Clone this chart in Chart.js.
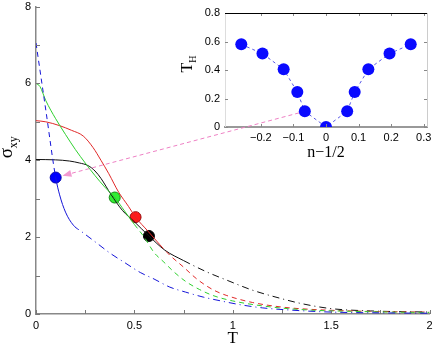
<!DOCTYPE html>
<html>
<head>
<meta charset="utf-8">
<script src="https://cdn.jsdelivr.net/npm/chart.js@4/dist/chart.umd.min.js"></script>
<style>
  body { margin: 0; background: #fff; }
  #wrap { position: relative; width: 436px; height: 346px; }
  #main, #inset, #arrow { position: absolute; top: 0; }
  #main, #arrow { left: 0; }
  #inset { left: 175px; }
  #arrow { pointer-events: none; }
</style>
</head>
<body>
<div id="wrap">
  <canvas id="main" width="436" height="346"></canvas>
  <canvas id="inset" width="261" height="162"></canvas>
  <canvas id="arrow" width="436" height="346"></canvas>
</div>
<script>
// ---- main plot: sigma_xy against T ----
var blueT  = [0, 0.05, 0.1, 0.12, 0.15, 0.19, 0.23, 0.3, 0.38, 0.45, 0.53, 0.6, 0.68, 0.76, 0.85, 0.94, 1.04, 1.15, 1.3, 1.5, 1.75, 2.0];
var blueS  = [7.05, 5.3, 3.55, 3.1, 2.65, 2.31, 2.15, 1.88, 1.57, 1.34, 1.08, 0.91, 0.7, 0.57, 0.44, 0.34, 0.24, 0.16, 0.1, 0.05, 0.03, 0.02];

var greenT = [0, 0.02, 0.05, 0.1, 0.15, 0.2, 0.25, 0.3, 0.35, 0.4, 0.45, 0.5, 0.55, 0.6, 0.65, 0.7, 0.76, 0.83, 0.9, 1.0, 1.2, 1.4, 1.6, 1.8, 2.0];
var greenS = [6.0, 5.92, 5.55, 5.08, 4.67, 4.28, 3.93, 3.6, 3.3, 3.03, 2.68, 2.33, 2.0, 1.6, 1.35, 1.1, 0.85, 0.64, 0.48, 0.34, 0.18, 0.1, 0.07, 0.05, 0.04];

var redT   = [0, 0.05, 0.12, 0.18, 0.24, 0.29, 0.33, 0.37, 0.42, 0.47, 0.506, 0.57, 0.63, 0.68, 0.75, 0.82, 0.9, 0.97, 1.1, 1.25, 1.4, 1.6, 1.8, 2.0];
var redS   = [5.03, 5.0, 4.9, 4.78, 4.63, 4.33, 4.0, 3.65, 3.17, 2.8, 2.52, 2.15, 1.8, 1.53, 1.22, 0.9, 0.63, 0.48, 0.3, 0.18, 0.12, 0.08, 0.06, 0.05];

var blackT = [0, 0.1, 0.17, 0.22, 0.265, 0.3, 0.33, 0.38, 0.44, 0.5, 0.574, 0.655, 0.75, 0.87, 0.97, 1.1, 1.24, 1.35, 1.5, 1.7, 2.0];
var blackS = [4.02, 4.01, 3.98, 3.93, 3.86, 3.72, 3.53, 3.12, 2.69, 2.4, 2.03, 1.66, 1.39, 1.09, 0.88, 0.62, 0.41, 0.27, 0.14, 0.08, 0.05];

// big dots on the curves (blue, green, red, black)
var markT = [0.1, 0.4, 0.506, 0.574];
var markS = [3.55, 3.03, 2.52, 2.03];

var mainXLabels = [0, 0.5, 1, 1.5, 2];
var mainYLabels = [0, 2, 4, 6, 8];

// ---- inset: T_H against n-1/2 ----
var insetX = [-0.26, -0.195, -0.13, -0.088, -0.065, 0, 0.065, 0.088, 0.13, 0.195, 0.26];
var insetY = [0.58, 0.515, 0.405, 0.245, 0.11, 0, 0.11, 0.245, 0.405, 0.515, 0.58];
var insetXLabels = [-0.2, -0.1, 0, 0.1, 0.2, 0.3];
var insetYLabels = [0, 0.2, 0.4, 0.6, 0.8];

var ARROW_FROM = 4;   // inset point the arrow starts at
var ARROW_TO = 0;     // main marker it points to

Chart.defaults.font.family = "'Liberation Sans', Arial, sans-serif";
Chart.defaults.color = '#000';

function pts(xs, ys) {
  return xs.map(function (x, i) { return { x: x, y: ys[i] }; });
}

// dash pattern depending on where the segment starts
function dashBy(fn) {
  return { borderDash: function (ctx) { return fn(ctx.p0.parsed.x); } };
}

function curve(xs, ys, color, fn) {
  return {
    data: pts(xs, ys),
    showLine: true,
    borderColor: color,
    borderWidth: 1,
    pointRadius: 0,
    cubicInterpolationMode: 'monotone',
    segment: dashBy(fn)
  };
}

var DASH = [5, 4];
var DASHDOT = [7, 4, 1, 4];

// inward tick marks, matlab style
var inwardTicks = {
  id: 'inwardTicks',
  afterDraw: function (chart, args, opts) {
    var ctx = chart.ctx, a = chart.chartArea, len = opts.len || 4;
    var sx = chart.scales.x, sy = chart.scales.y;
    ctx.save();
    ctx.strokeStyle = opts.color || '#777';
    ctx.lineWidth = 1;
    ctx.beginPath();
    sx.ticks.forEach(function (t) {
      var p = Math.round(sx.getPixelForValue(t.value)) + 0.5;
      ctx.moveTo(p, a.bottom); ctx.lineTo(p, a.bottom - len);
      if (opts.mirror) { ctx.moveTo(p, a.top); ctx.lineTo(p, a.top + len); }
    });
    sy.ticks.forEach(function (t) {
      var p = Math.round(sy.getPixelForValue(t.value)) + 0.5;
      ctx.moveTo(a.left, p); ctx.lineTo(a.left + len, p);
      if (opts.mirror) { ctx.moveTo(a.right, p); ctx.lineTo(a.right - len, p); }
    });
    ctx.stroke();
    if (opts.box) {
      ctx.strokeStyle = '#000';
      ctx.beginPath();
      ctx.moveTo(a.left, a.top + 0.5); ctx.lineTo(a.right, a.top + 0.5);
      ctx.stroke();
      ctx.strokeStyle = '#ccc';
      ctx.beginPath();
      ctx.moveTo(a.right + 0.5, a.top); ctx.lineTo(a.right + 0.5, a.bottom);
      ctx.stroke();
    }
    ctx.restore();
  }
};

// axis titles with a subscript
var axisTitles = {
  id: 'axisTitles',
  afterDraw: function (chart, args, opts) {
    var ctx = chart.ctx, a = chart.chartArea;
    ctx.save();
    ctx.fillStyle = '#000';
    ctx.textBaseline = 'alphabetic';
    // x title
    ctx.font = opts.xSize + "px 'Liberation Serif', serif";
    ctx.textAlign = 'center';
    ctx.fillText(opts.x, (a.left + a.right) / 2, a.bottom + opts.xOff);
    // y title, rotated, main letter plus subscript
    ctx.translate(opts.yX, (a.top + a.bottom) / 2 + opts.yShift);
    ctx.rotate(-Math.PI / 2);
    ctx.textAlign = 'left';
    ctx.font = opts.ySize + "px 'Liberation Serif', serif";
    var w = ctx.measureText(opts.y).width;
    ctx.font = opts.subSize + "px 'Liberation Serif', serif";
    var ws = ctx.measureText(opts.ySub).width;
    var x0 = -(w + ws) / 2;
    ctx.font = opts.ySize + "px 'Liberation Serif', serif";
    ctx.fillText(opts.y, x0, 0);
    ctx.font = opts.subSize + "px 'Liberation Serif', serif";
    ctx.fillText(opts.ySub, x0 + w, opts.subDrop);
    ctx.restore();
  }
};

var mainXTicks = [];
for (var i = 0; i <= 8; i++) mainXTicks.push(i * 0.25);
var mainYTicks = [];
for (var j = 0; j <= 8; j++) mainYTicks.push(j);

var mainChart = new Chart(document.getElementById('main'), {
  type: 'scatter',
  data: {
    datasets: [
      curve(blueT, blueS, '#1515d8', function (x) { return x < 0.1 ? DASH : (x < 0.19 ? [] : DASHDOT); }),
      curve(greenT, greenS, '#2fd02f', function (x) { return x < 0.5 ? [] : DASH; }),
      curve(redT, redS, '#e02828', function (x) { return x < 0.63 ? [] : DASH; }),
      curve(blackT, blackS, '#111111', function (x) { return x < 0.75 ? [] : DASHDOT; }),
      {
        data: pts(markT, markS),
        pointRadius: 5.5,
        pointBackgroundColor: ['#0000ff', '#33ee33', '#ff1a1a', '#000000'],
        pointBorderColor: ['#0000aa', '#118811', '#991111', '#000000'],
        pointBorderWidth: 1
      }
    ]
  },
  options: {
    responsive: false,
    animation: false,
    events: [],
    layout: { padding: { top: 5, right: 6, left: 0, bottom: 0 } },
    plugins: {
      legend: { display: false },
      tooltip: { enabled: false },
      inwardTicks: { len: 4, color: '#777' },
      axisTitles: { x: 'T', xSize: 17, xOff: 29, y: '\u03c3', ySub: 'xy', ySize: 19, subSize: 12, subDrop: 5, yX: 12, yShift: -13 }
    },
    scales: {
      x: {
        type: 'linear', min: 0, max: 2,
        afterBuildTicks: function (s) { s.ticks = mainXTicks.map(function (v) { return { value: v }; }); },
        afterFit: function (s) { s.height = 32; s.paddingLeft = 0; s.paddingRight = 0; },
        ticks: {
          font: { size: 11 }, padding: 5, maxRotation: 0, autoSkip: false,
          callback: function (v) { return mainXLabels.indexOf(v) >= 0 ? String(v) : ''; }
        },
        grid: { display: false, drawTicks: false },
        border: { color: '#888', width: 1.5 }
      },
      y: {
        type: 'linear', min: 0, max: 8,
        afterBuildTicks: function (s) { s.ticks = mainYTicks.map(function (v) { return { value: v }; }); },
        afterFit: function (s) { s.width = 36; s.paddingTop = 0; s.paddingBottom = 0; },
        ticks: {
          font: { size: 11 }, padding: 5, autoSkip: false,
          callback: function (v) { return mainYLabels.indexOf(v) >= 0 ? String(v) : ''; }
        },
        grid: { display: false, drawTicks: false },
        border: { color: '#888', width: 1.5 }
      }
    }
  },
  plugins: [inwardTicks, axisTitles]
});

var insetChart = new Chart(document.getElementById('inset'), {
  type: 'scatter',
  data: {
    datasets: [{
      data: pts(insetX, insetY),
      showLine: true,
      borderColor: '#5a5ae6',
      borderWidth: 1,
      borderDash: [3, 3],
      pointRadius: 6,
      pointBackgroundColor: '#0a0aff',
      pointBorderColor: '#0a0aff',
      pointBorderWidth: 0
    }]
  },
  options: {
    responsive: false,
    animation: false,
    events: [],
    layout: { padding: { top: 13, right: 9, left: 0, bottom: 0 } },
    plugins: {
      legend: { display: false },
      tooltip: { enabled: false },
      inwardTicks: { len: 3, color: '#888', mirror: true, box: true },
      axisTitles: { x: 'n\u22121/2', xSize: 16, xOff: 30, y: 'T', ySub: 'H', ySize: 16, subSize: 10, subDrop: 4, yX: 17, yShift: -6 }
    },
    scales: {
      x: {
        type: 'linear', min: -0.31, max: 0.31,
        afterBuildTicks: function (s) { s.ticks = insetXLabels.map(function (v) { return { value: v }; }); },
        afterFit: function (s) { s.height = 35; s.paddingLeft = 0; s.paddingRight = 0; },
        ticks: { font: { size: 11 }, padding: 4, maxRotation: 0, autoSkip: false,
          callback: function (v) { return String(v).replace('-', '\u2212'); } },
        grid: { display: false, drawTicks: false },
        border: { color: '#999', width: 2 }
      },
      y: {
        type: 'linear', min: 0, max: 0.8,
        afterBuildTicks: function (s) { s.ticks = insetYLabels.map(function (v) { return { value: v }; }); },
        afterFit: function (s) { s.width = 50; s.paddingTop = 0; s.paddingBottom = 0; },
        ticks: { font: { size: 11 }, padding: 5, autoSkip: false,
          callback: function (v) { return String(v); } },
        grid: { display: false, drawTicks: false },
        border: { color: '#ddd', width: 1 }
      }
    }
  },
  plugins: [inwardTicks, axisTitles]
});

// pink arrow from the inset point to the blue dot of the main plot
(function () {
  var ctx = document.getElementById('arrow').getContext('2d');
  var insetLeft = 175;
  var sx = insetLeft + insetChart.scales.x.getPixelForValue(insetX[ARROW_FROM]);
  var sy = insetChart.scales.y.getPixelForValue(insetY[ARROW_FROM]);
  var ex = mainChart.scales.x.getPixelForValue(markT[ARROW_TO]);
  var ey = mainChart.scales.y.getPixelForValue(markS[ARROW_TO]);
  var dx = ex - sx, dy = ey - sy, d = Math.sqrt(dx * dx + dy * dy);
  var ux = dx / d, uy = dy / d;
  sx += ux * 6; sy += uy * 6;
  ex -= ux * 7; ey -= uy * 7;
  var hx = ex - ux * 9, hy = ey - uy * 9;
  ctx.strokeStyle = '#ee80c4';
  ctx.lineWidth = 1;
  ctx.setLineDash([4, 3]);
  ctx.beginPath();
  ctx.moveTo(sx, sy);
  ctx.lineTo(hx, hy);
  ctx.stroke();
  ctx.setLineDash([]);
  ctx.fillStyle = '#f29ad0';
  ctx.beginPath();
  ctx.moveTo(ex, ey);
  ctx.lineTo(hx - uy * 3.5, hy + ux * 3.5);
  ctx.lineTo(hx + uy * 3.5, hy - ux * 3.5);
  ctx.closePath();
  ctx.fill();
})();
</script>
</body>
</html>
